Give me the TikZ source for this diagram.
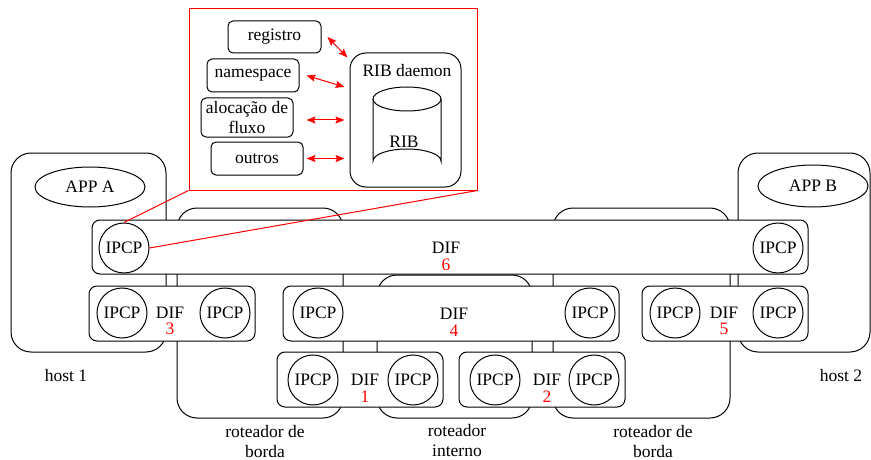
\documentclass[tikz,border=0pt]{standalone}
\usepackage{fontspec}
\setmainfont{Liberation Serif}
\usetikzlibrary{arrows.meta,calc}

\tikzset{
  every node/.style={font=\fontsize{17.5}{20}\selectfont},
  device/.style={draw=black, fill=white, line width=1pt, rounded corners=20pt, inner sep=0pt},
  difbox/.style={draw=black, fill=white, line width=1pt, rounded corners=8pt, inner sep=0pt},
  ipcp/.style={draw=black, fill=white, line width=1pt, circle, minimum size=50pt, inner sep=0pt},
  difname/.style={align=center, inner sep=0pt, font=\fontsize{17.5}{16.5}\selectfont},
  caption/.style={align=center, inner sep=0pt},
  module/.style={draw=black, fill=white, line width=1pt, rounded corners=5pt, inner sep=0pt, align=center},
  zoomline/.style={draw=red, line width=1pt},
  ribarrow/.style={red, line width=1pt, {Stealth[length=9pt,width=7pt,inset=1.5pt]}-{Stealth[length=9pt,width=7pt,inset=1.5pt]}},
}

\begin{document}
\begin{tikzpicture}[x=1pt, y=-1pt]
\useasboundingbox (0,0) rectangle (871,460);

% hosts and routers
\node[device, minimum width=155pt, minimum height=199pt] (host1) at (88.5,252.5) {};
\node[device, minimum width=132pt, minimum height=199pt] (host2) at (804,252.5) {};
\node[device, minimum width=166pt, minimum height=210pt] (rb1) at (260,313) {};
\node[device, minimum width=155pt, minimum height=143pt] (ri) at (454.5,346.5) {};
\node[device, minimum width=177pt, minimum height=210pt] (rb2) at (641.5,313) {};

% applications
\draw[line width=1pt, fill=white] (90,187) ellipse [x radius=55, y radius=20];
\node (appA) at (90,187) {APP A};
\draw[line width=1pt, fill=white] (813,186) ellipse [x radius=55, y radius=21];
\node (appB) at (813,186) {APP B};

% DIF 6
\node[difbox, minimum width=716pt, minimum height=54pt] (dif6) at (450,247) {};
\node[ipcp] (p6a) at (124,248) {IPCP};
\node[ipcp] (p6b) at (778,248) {IPCP};
\node[difname] (l6) at (446,256.5) {DIF\\\textcolor{red}{6}};

% DIF 3
\node[difbox, minimum width=166pt, minimum height=55pt] (dif3) at (172,313.5) {};
\node[ipcp] (p3a) at (122,313) {IPCP};
\node[ipcp] (p3b) at (225,313) {IPCP};
\node[difname] (l3) at (170,321) {DIF\\\textcolor{red}{3}};

% DIF 4
\node[difbox, minimum width=336pt, minimum height=55pt] (dif4) at (451,313.5) {};
\node[ipcp] (p4a) at (318,313) {IPCP};
\node[ipcp] (p4b) at (590,313) {IPCP};
\node[difname] (l4) at (454,322.5) {DIF\\\textcolor{red}{4}};

% DIF 5
\node[difbox, minimum width=166pt, minimum height=55pt] (dif5) at (725,313.5) {};
\node[ipcp] (p5a) at (675,313) {IPCP};
\node[ipcp] (p5b) at (778,313) {IPCP};
\node[difname] (l5) at (724,321) {DIF\\\textcolor{red}{5}};

% DIF 1
\node[difbox, minimum width=166pt, minimum height=55pt] (dif1) at (360,379.5) {};
\node[ipcp] (p1a) at (313,380) {IPCP};
\node[ipcp] (p1b) at (413,380) {IPCP};
\node[difname] (l1) at (365,388.5) {DIF\\\textcolor{red}{1}};

% DIF 2
\node[difbox, minimum width=166pt, minimum height=55pt] (dif2) at (542,379.5) {};
\node[ipcp] (p2a) at (495,380) {IPCP};
\node[ipcp] (p2b) at (594,380) {IPCP};
\node[difname] (l2) at (547,388.5) {DIF\\\textcolor{red}{2}};

% captions
\node[caption] (c1) at (66,376) {host 1};
\node[caption] (c2) at (841,376) {host 2};
\node[caption] (c3) at (265,442) {roteador de\\borda};
\node[caption] (c4) at (457,441) {roteador\\interno};
\node[caption] (c5) at (653,442) {roteador de\\borda};

% detail of the IPCP
\node[draw=red, line width=1pt, minimum width=288pt, minimum height=181pt, inner sep=0pt] (inset) at (333,99.5) {};
\draw[zoomline] (inset.south west) -- (p6a.north);
\draw[zoomline] (inset.south east) -- (p6a.east);

\node[module, minimum width=93pt, minimum height=32pt] (reg) at (274.5,37) {registro};
\node[module, minimum width=92pt, minimum height=33pt] (ns) at (253,75.5) {namespace};
\node[module, minimum width=92pt, minimum height=39pt] (aloc) at (247,117.5) {alocação de\\fluxo};
\node[module, minimum width=92pt, minimum height=33pt] (out) at (257,158.5) {outros};

\node[draw=black, line width=1pt, rounded corners=16pt, minimum width=111pt, minimum height=134pt, inner sep=0pt] (daemon) at (405.5,120) {};
\node (dlabel) at (407,71) {RIB daemon};

% RIB store drawn as a cylinder
\draw[line width=1pt] (373,99) -- (373,161) arc[start angle=180, end angle=360, x radius=34, y radius=12] -- (441,99);
\draw[line width=1pt] (407,99) ellipse [x radius=34, y radius=12];
\node (rib) at (404,142) {RIB};

\draw[ribarrow] ([xshift=6pt]reg.east) -- ([yshift=-5pt,xshift=-2pt]daemon.north west);
\draw[ribarrow] ([xshift=7pt]ns.east) -- ([xshift=-5pt,yshift=33pt]daemon.west);
\draw[ribarrow] ([xshift=13pt]aloc.east |- daemon.west) -- ([xshift=-5pt]daemon.west);
\draw[ribarrow] ([xshift=3pt]out.east) -- ([xshift=-5pt]daemon.west |- out.east);
\end{tikzpicture}
\end{document}
